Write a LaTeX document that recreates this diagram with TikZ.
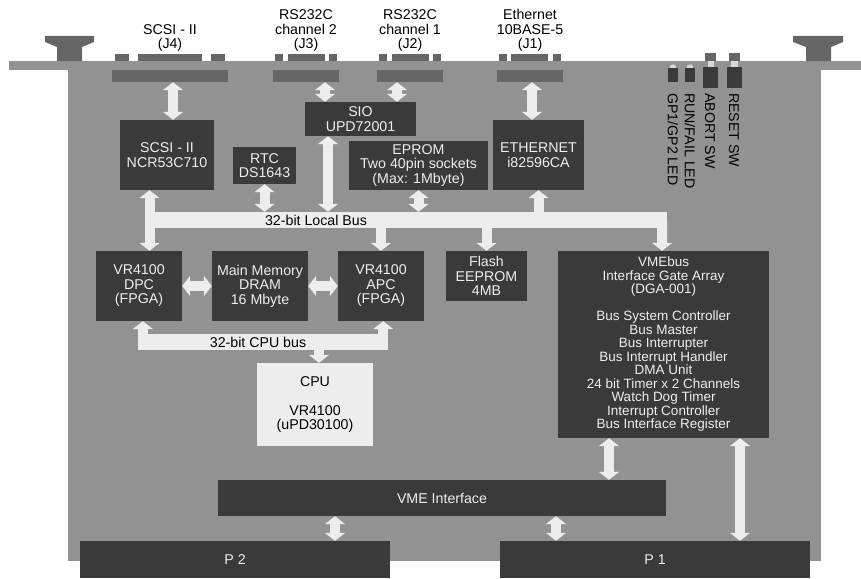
\documentclass[tikz,border=0pt]{standalone}
\usepackage{fontspec}
\setmainfont{Liberation Sans}
\usetikzlibrary{arrows.meta}
\definecolor{board}{HTML}{929292}
\definecolor{dark}{HTML}{3A3A3A}
\definecolor{conn}{HTML}{666666}
\definecolor{lite}{HTML}{EDEDED}
\definecolor{txt}{HTML}{EEEEEE}
\definecolor{bump}{HTML}{D8D8D8}
\begin{document}
\begin{tikzpicture}[x=1pt,y=-1pt,
  box/.style={fill=dark, text=txt, inner sep=0pt, align=center, font=\fontsize{14.2}{14.5}\selectfont},
  small/.style={font=\fontsize{13.5}{13.5}\selectfont},
  lbl/.style={text=black, inner sep=0pt, align=center, font=\fontsize{14.2}{14.5}\selectfont},
  bar/.style={fill=conn, inner sep=0pt, minimum height=12pt},
  busbar/.style={fill=lite, inner sep=0pt, minimum height=16pt},
  tip/.tip={Triangle[width=20pt,length=8pt]},
  fat/.style={draw=lite, line width=10pt, -tip},
  dfat/.style={draw=lite, line width=10pt, tip-tip}]
\useasboundingbox (0,0) rectangle (861,578);
% board
\fill[board] (9,61) rectangle (861,70);
\fill[board] (68,70) rectangle (821,561);
% handles
\fill[conn] (45,36) -- (94,36) -- (94,42) -- (82,47) -- (82,61) -- (57,61) -- (57,47) -- (45,42) -- cycle;
\fill[conn] (793,36) -- (843,36) -- (843,42) -- (831,47) -- (831,61) -- (806,61) -- (806,47) -- (793,42) -- cycle;
% connector pads
\foreach \a/\b in {115/129,138/202,211/225,275/283,288/325,329/337,379/387,392/429,433/441,499/507,511/548,553/561}
  \fill[conn] (\a,54) rectangle (\b,61);
% connector bars
\node[bar, minimum width=116pt] (j4) at (170,76) {};
\node[bar, minimum width=66pt] (j3) at (306,76) {};
\node[bar, minimum width=66pt] (j2) at (410,76) {};
\node[bar, minimum width=66pt] (j1) at (530,76) {};
% connector labels
\node[lbl, anchor=south] (l4) at (170,52) {SCSI - II\\(J4)};
\node[lbl, anchor=south] (l3) at (306,52) {RS232C\\channel 2\\(J3)};
\node[lbl, anchor=south] (l2) at (410,52) {RS232C\\channel 1\\(J2)};
\node[lbl, anchor=south] (l1) at (530,52) {Ethernet\\10BASE-5\\(J1)};
% LEDs and switches
\fill[bump] (673,67.5) circle (3.2pt);
\fill[dark] (668,68) rectangle (678,82);
\fill[bump] (690,67.5) circle (3.2pt);
\fill[dark] (685,68) rectangle (695,82);
\fill[conn] (705,53) rectangle (716,61);
\fill[bump] (708,61) rectangle (714,67);
\fill[dark] (703,67) rectangle (718,88);
\fill[conn] (729,53) rectangle (740,61);
\fill[bump] (731,61) rectangle (738,67);
\fill[dark] (727,67) rectangle (742,88);
\node[lbl, rotate=-90, anchor=west] (gp) at (673,93) {GP1/GP2 LED};
\node[lbl, rotate=-90, anchor=west] (rf) at (690,93) {RUN/FAIL LED};
\node[lbl, rotate=-90, anchor=west] (ab) at (710,93) {ABORT SW};
\node[lbl, rotate=-90, anchor=west] (rs) at (734,93) {RESET SW};
% boxes
\node[box, minimum width=94pt, minimum height=70pt] (scsi) at (167,155) {SCSI - II\\NCR53C710};
\node[box, minimum width=63pt, minimum height=37pt] (rtc) at (264.5,165.5) {RTC\\DS1643};
\node[box, minimum width=111pt, minimum height=34pt] (sio) at (360.5,119) {SIO\\UPD72001};
\node[box, minimum width=139pt, minimum height=49pt] (eprom) at (418.5,165.5) {EPROM\\Two 40pin sockets\\(Max: 1Mbyte)};
\node[box, minimum width=91pt, minimum height=70pt] (eth) at (538.5,155) {ETHERNET\\i82596CA};
\node[box, minimum width=86pt, minimum height=70pt] (dpc) at (139,286) {VR4100\\DPC\\(FPGA)};
\node[box, minimum width=96pt, minimum height=70pt] (mm) at (260,286) {Main Memory\\DRAM\\16 Mbyte};
\node[box, minimum width=86pt, minimum height=70pt] (apc) at (381,286) {VR4100\\APC\\(FPGA)};
\node[box, minimum width=81pt, minimum height=50pt] (flash) at (486.5,276) {Flash\\EEPROM\\4MB};
\node[box, small, minimum width=211pt, minimum height=187pt] (vmebus) at (663.5,344.5) {VMEbus\\Interface Gate Array\\(DGA-001)\\[13.5pt]Bus System Controller\\Bus Master\\Bus Interrupter\\Bus Interrupt Handler\\DMA Unit\\24 bit Timer x 2 Channels\\Watch Dog Timer\\Interrupt Controller\\Bus Interface Register};
\node[box, fill=lite, text=black, minimum width=116pt, minimum height=83pt] (cpu) at (315,404.5) {CPU\\[14.5pt]VR4100\\(uPD30100)};
\node[box, minimum width=448pt, minimum height=36pt] (vmeif) at (442,498) {VME Interface};
\node[box, minimum width=310pt, minimum height=37pt] (p2) at (235,559.5) {P 2};
\node[box, minimum width=310pt, minimum height=37pt] (p1) at (655,559.5) {P 1};
% buses
\node[busbar, minimum width=522pt] (lbus) at (406,220) {};
\node[lbl] (lbuslabel) at (316,220) {32-bit Local Bus};
\node[busbar, minimum width=250pt] (cbus) at (263,342) {};
\node[lbl] (cbuslabel) at (258,342) {32-bit CPU bus};
% connector arrows
\draw[dfat] ([xshift=3]j4.south) -- ([xshift=6]scsi.north);
\draw[dfat] ([xshift=19]j3.south) -- ([xshift=-35.5]sio.north);
\draw[dfat] ([xshift=-13]j2.south) -- ([xshift=36.5]sio.north);
\draw[dfat] ([xshift=2]j1.south) -- ([xshift=-6.5]eth.north);
% local bus arrows
\draw[dfat] ([xshift=-17.5]scsi.south) -- ([xshift=10.5]dpc.north);
\draw[dfat] (rtc.south) -- (rtc.south |- lbus.north);
\coordinate (siob) at ([xshift=-32.5]sio.south);
\draw[dfat] (siob) -- (siob |- lbus.north);
\draw[dfat] (eprom.south) -- (eprom.south |- lbus.north);
\draw[fat] (eth.south |- lbus.north) -- (eth.south);
\draw[fat] (apc.north |- lbus.south) -- (apc.north);
\draw[fat] (flash.north |- lbus.south) -- (flash.north);
\draw[fat] ([xshift=-5]lbus.east) -- ([xshift=-1.5]vmebus.north);
% memory arrows
\draw[dfat] (dpc.east) -- (mm.west);
\draw[dfat] (mm.east) -- (apc.west);
% cpu bus arrows
\coordinate (cl) at ([xshift=5]cbus.west);
\coordinate (cr) at ([xshift=-5]cbus.east);
\draw[fat] (cl) -- (cl |- dpc.south);
\draw[fat] (cr) -- (cr |- apc.south);
\coordinate (cc) at ([xshift=4]cpu.north);
\draw[fat] (cc |- cbus.south) -- (cc);
% VME arrows
\coordinate (v1) at ([xshift=-54.5]vmebus.south);
\draw[dfat] (v1) -- (v1 |- vmeif.north);
\coordinate (v2) at ([xshift=76.5]vmebus.south);
\draw[dfat] (v2) -- (v2 |- p1.north);
\coordinate (pp2) at ([xshift=100]p2.north);
\draw[dfat] (pp2 |- vmeif.south) -- (pp2);
\coordinate (pp1) at ([xshift=-99]p1.north);
\draw[dfat] (pp1 |- vmeif.south) -- (pp1);
\end{tikzpicture}
\end{document}
